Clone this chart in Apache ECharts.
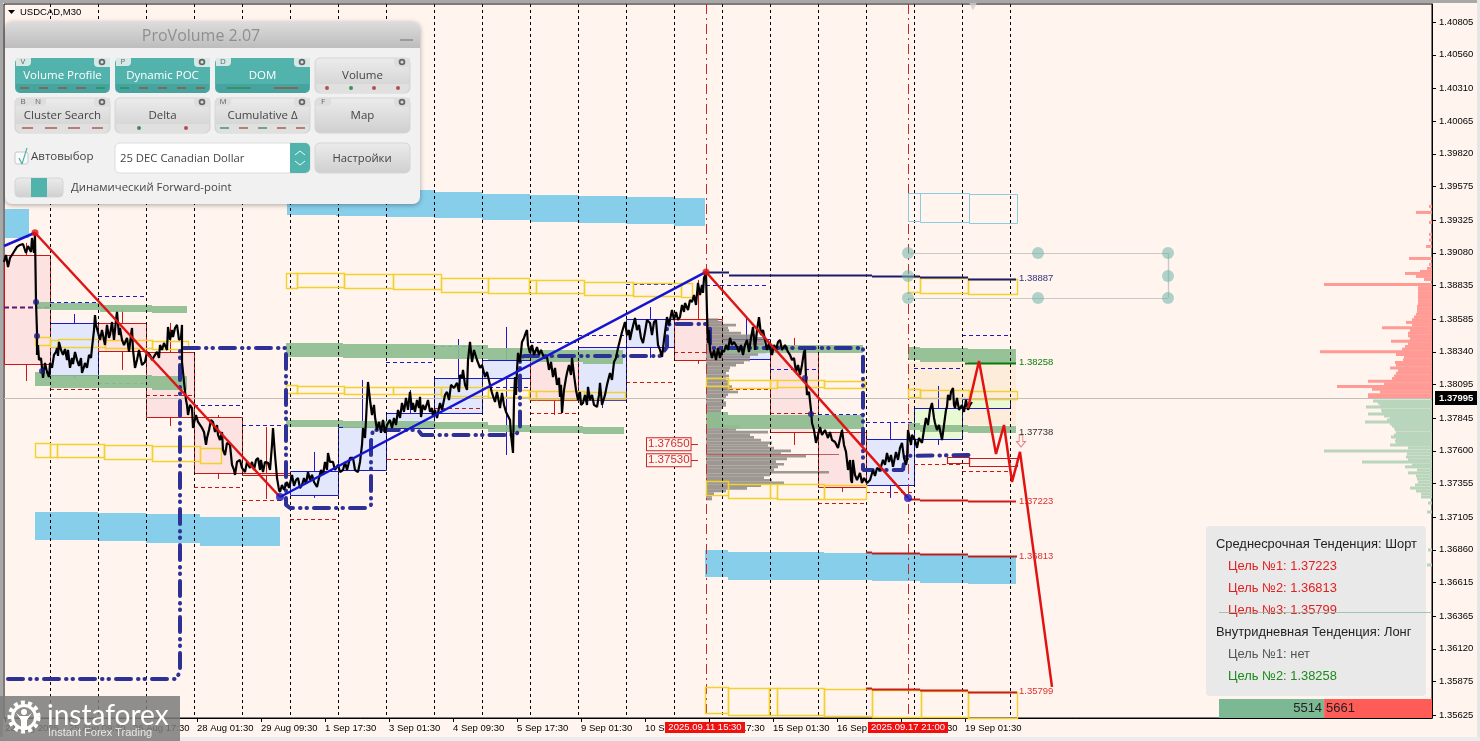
<!DOCTYPE html>
<html><head><meta charset="utf-8">
<style>html,body{margin:0;padding:0;background:#fff5ee;overflow:hidden}#c{width:1480px;height:741px}</style>
<script src="https://cdn.jsdelivr.net/npm/echarts@6/dist/echarts.min.js"></script>
</head><body><div id="c"></div>
<script>
// Prices below are in points: 38257 means 1.38257. Horizontal values are bar numbers.
const priceTicks=[40805,40560,40310,40065,39820,39575,39325,39080,38835,38585,38340,38095,37845,37600,37355,37105,36860,36615,36365,36120,35875,35625];
const timeTicks=[5,69,133,197,261,325,389,453,517,581,645,709,773,837,901,965];
const timeLabels=['22 Aug 2025','25 Aug 09:30','26 Aug 17:30','28 Aug 01:30','29 Aug 09:30','1 Sep 17:30','3 Sep 01:30','4 Sep 09:30','5 Sep 17:30','9 Sep 01:30','10 Sep 09:30','11 Sep 17:30','15 Sep 01:30','16 Sep 09:30','17 Sep 17:30','19 Sep 01:30'];
const daySeparators=[50,98,146,194,242,290,338,386,434,482,530,578,626,674,722,770,818,866,914,962,1010];
const sessionMarks=[706,908];
const closeTrace=[[4,39012],[6,39064],[8,38974],[10,39042],[12,39064],[15,39101],[17,39124],[20,39139],[23,39146],[25,39101],[26,39079],[28,39131],[30,39124],[31,39087],[32,39191],[34,39079],[35,39214],[36,38713],[37,38488],[37,38317],[38,38391],[39,38279],[41,38294],[43,38145],[45,38257],[47,38190],[49,38152],[50,38257],
[52,38220],[54,38317],[56,38339],[57,38369],[58,38309],[59,38414],[61,38354],[63,38317],[65,38361],[67,38279],[68,38354],[70,38220],[72,38294],[73,38249],[75,38339],[77,38279],[79,38235],[81,38294],[82,38182],[84,38227],[85,38257],[87,38220],[89,38317],[91,38294],[92,38369],[94,38503],[95,38615],[96,38541],[98,38541],[100,38429],[102,38503],[103,38466],[105,38391],[107,38541],[109,38444],[110,38466],[112,38563],[114,38429],[116,38578],[117,38638],[119,38466],[120,38518],[122,38429],[124,38391],[127,38444],[129,38339],[131,38466],[132,38518],[133,38354],[135,38220],[137,38279],[139,38354],[140,38317],[142,38242],[145,38264],[147,38339],[150,38317],[152,38279],[155,38317],[157,38339],[159,38294],[160,38391],[162,38354],[164,38406],[166,38414],[167,38354],[168,38526],[170,38429],[172,38503],[173,38451],[175,38518],[177,38541],[179,38429],[181,38444],[182,38541],[182,38264],[184,38115],[186,37980],[187,37943],[188,37868],[190,37943],[192,37920],[193,37771],[194,37808],[196,37868],[198,37816],[200,37816],[202,37771],[204,37741],[206,37644],[207,37696],[209,37756],[211,37831],[213,37816],[215,37741],[217,37793],[218,37719],[220,37681],[222,37741],[223,37607],[225,37569],[227,37659],[230,37644],[232,37495],[234,37457],[235,37420],[237,37517],[240,37532],[242,37472],[245,37442],[247,37517],[250,37472],[252,37517],[254,37457],[256,37532],[258,37547],[260,37457],[261,37532],[263,37442],[265,37517],[268,37510],[270,37457],[272,37644],[273,37771],[275,37569],[277,37397],[279,37308],[280,37293],[282,37345],[284,37308],[287,37367],[289,37322],[292,37420],[294,37338],[296,37382],[298,37397],[300,37322],[302,37345],[304,37397],[306,37353],[308,37442],[310,37382],[312,37420],[314,37367],[317,37330],[319,37397],[321,37457],[323,37420],[325,37517],[327,37457],[328,37584],[330,37517],[333,37517],[335,37457],[338,37495],[340,37442],[343,37457],[345,37517],[347,37457],[350,37547],[353,37547],[355,37457],[358,37442],[360,37517],[362,37644],[363,37771],[365,37696],[366,37831],[367,37980],[368,38115],[370,37980],[372,37868],[374,37943],[375,37853],[377,37756],[379,37816],[381,37734],[383,37831],[385,37734],[387,37793],[390,37831],[392,37771],[394,37846],[396,37793],[398,37906],[400,37846],[402,37958],[404,37891],[406,37995],[408,37906],[410,38040],[412,37906],[413,37958],[415,37891],[417,37980],[419,37920],[420,38003],[421,37853],[423,37943],[425,37906],[428,37980],[430,37891],[432,37920],[433,37853],[435,37906],[437,37846],[440,37958],[442,37906],[445,38018],[447,38040],[449,37980],[451,38093],[454,38070],[457,38108],[459,38040],[460,38167],[462,38145],[463,38205],[465,38093],[467,38055],[468,38279],[470,38414],[472,38264],[474,38354],[477,38279],[480,38220],[482,38242],[485,38152],[487,38190],[490,38093],[492,38033],[495,37965],[497,38040],[500,37920],[502,38033],[504,37943],[506,37891],[508,37883],[510,37831],[511,37719],[513,37584],[514,37980],[515,38152],[516,38018],[517,38205],[518,38332],[520,38264],[522,38414],[524,38444],[526,38488],[527,38503],[528,38391],[530,38332],[532,38391],[534,38317],[537,38376],[539,38317],[541,38354],[544,38294],[547,38302],[549,38205],[551,38264],[553,38152],[555,38220],[557,38093],[559,38145],[560,38003],[561,38093],[562,37883],[564,38055],[566,38145],[567,38182],[569,38242],[571,38167],[572,38294],[574,38167],[576,38055],[578,37980],[580,38040],[581,37943],[583,37958],[585,38018],[587,37943],[588,38078],[590,37980],[592,38018],[594,37943],[597,37928],[599,38018],[600,38108],[602,37943],[603,37943],[605,38018],[607,38093],[610,38182],[612,38130],[614,38264],[616,38294],[618,38369],[620,38429],[622,38488],[625,38563],[627,38466],[629,38503],[630,38429],[632,38503],[635,38593],[637,38503],[639,38541],[641,38444],[643,38406],[645,38488],[647,38578],[650,38556],[652,38466],[654,38563],[656,38578],[658,38391],[660,38354],[662,38302],[664,38429],[666,38541],[667,38600],[669,38541],[671,38615],[672,38653],[674,38578],[676,38638],[678,38578],[680,38600],[682,38690],[684,38638],[685,38705],[688,38653],[690,38728],[692,38713],[694,38765],[696,38690],[698,38855],[700,38765],[702,38840],[703,38780],[704,38892],[706,38930],
[707,38630],[708,38406],[709,38503],[710,38354],[712,38294],[714,38354],[716,38279],[718,38369],[720,38294],[722,38354],[724,38339],[726,38391],[728,38354],[730,38444],[732,38391],[734,38414],[737,38376],[739,38339],[741,38391],[743,38317],[745,38391],[747,38429],[749,38339],[751,38444],[753,38526],[755,38354],[757,38503],[759,38600],[761,38466],[763,38503],[765,38429],[767,38354],[769,38406],[770,38369],[772,38317],[774,38391],[776,38354],[778,38414],[780,38429],[782,38354],[785,38391],[788,38339],[790,38317],[792,38279],[794,38294],[796,38190],[798,38242],[800,38167],[802,38242],[804,38339],[805,38354],[806,38145],[807,38018],[809,38040],[811,37906],[812,37808],[814,37756],[816,37659],[818,37719],[820,37778],[822,37719],[825,37756],[828,37696],[830,37741],[832,37681],[835,37666],[838,37622],[840,37629],[842,37756],[844,37644],[846,37592],[848,37457],[850,37532],[851,37382],[852,37360],[853,37532],[855,37420],[857,37382],[860,37435],[862,37360],[864,37397],[867,37360],[870,37382],[873,37457],[875,37412],[877,37472],[880,37457],[883,37532],[885,37495],[887,37584],[889,37517],[891,37569],[893,37480],[896,37592],[898,37532],[900,37622],[902,37659],[904,37547],[906,37495],[907,37532],[908,37756],[911,37644],[912,37719],[915,37681],[917,37622],[919,37696],[922,37659],[924,37756],[926,37846],[928,37793],[930,37906],[932,37958],[934,37846],[935,37808],[937,37756],[939,37793],[942,37681],[944,37793],[946,37906],[947,37928],[948,38018],[950,37980],[951,38040],[953,38070],[954,37943],[955,37920],[957,37995],[959,37906],[962,37943],[964,37891],[966,37980],[968,37906],[970,37943],[972,37965]];
const trendRed1=[[35,39230],[280,37255]], trendRed2=[[706,38937],[908,37248]];
const trendBlue1=[[4,39131],[35,39230]], trendBlue2=[[280,37255],[706,38937]];
const forecastPath=[[968,37920],[979,38272],[996,37577],[1004,37793],[1012,37367],[1020,37592],[1052,35836]];
const pocPath=[[8,35895],[176,35895],[180,35948],[180,38369],[286,38369],[286,37196],[290,37173],[367,37173],[371,37196],[371,37674],[373,37756],[418,37756],[422,37719],[516,37719],[520,37771],[520,38294],[524,38309],[660,38309],[667,38376],[667,38541],[672,38548],[706,38548],[710,38518],[710,38376],[713,38369],[863,38369],[863,37457],[903,37457],[905,37562],[973,37569]];
const skyBands=[[287,336,39550,39363],[336,386,39550,39356],[386,434,39550,39348],[434,482,39535,39341],[482,530,39520,39326],[530,578,39512,39311],[578,626,39505,39303],[626,674,39497,39296],[674,705,39490,39281],[5,29,39408,39191],[35,98,37143,36934],[98,146,37136,36926],[146,200,37128,36911],[200,280,37106,36889],[705,728,36859,36658],[728,824,36844,36635],[824,872,36837,36635],[872,920,36837,36628],[920,968,36829,36613],[968,1016,36814,36605]];
const greenBands=[[37,50,38713,38660],[50,100,38705,38653],[100,152,38690,38638],[152,187,38683,38630],[35,50,38190,38085],[50,98,38167,38070],[98,152,38167,38070],[152,187,38160,38055],[286,343,38406,38302],[343,435,38399,38294],[435,488,38391,38287],[488,530,38369,38279],[530,583,38354,38264],[583,623,38354,38250],[286,343,37831,37778],[343,435,37823,37771],[435,488,37816,37763],[488,530,37793,37741],[530,583,37786,37734],[583,624,37778,37726],[706,728,37891,37771],[728,864,37868,37763],[722,863,38391,38332],[908,920,38376,38279],[920,968,38369,38264],[968,1016,38361,38257],[908,920,37808,37756],[920,968,37793,37741],[968,1016,37786,37734]];
const orangeZone=[[908,1016,38264,37793]];
const blueBoxes=[[50,98,38556,38167],[290,338,37450,37270],[338,386,37778,37457],[386,434,37883,37771],[434,482,38145,37883],[482,530,38279,38145],[578,626,38376,37980],[626,674,38586,38376],[722,770,38436,38287],[866,914,37689,37345]];
const redBoxes=[[4,50,39064,38249],[98,146,38556,38347],[146,194,38339,37853],[194,242,37853,37435],[242,290,37435,37420],[530,578,38302,37980],[674,722,38586,38279],[770,818,38369,37741],[818,866,37741,37330]];
const limeBoxes=[[914,962,37920,37689],[962,1010,37988,37920]];
const blueWicks=[[74,38623,38556],[74,38167,38145],[314,37592,37450],[314,37270,37248],[362,38130,37778],[410,38055,37883],[458,38436,38145],[506,38526,38279],[506,38145,37569],[602,37980,37920],[650,38675,38586],[650,38376,38294],[746,38600,38436],[890,37808,37689],[890,37345,37248],[938,38085,37920],[938,37689,37644]];
const redWicks=[[26,39154,39064],[26,38249,38122],[122,38660,38556],[122,38347,38205],[170,38556,38339],[170,37853,37786],[218,37868,37853],[218,37435,37390],[266,37778,37435],[266,37420,37240],[554,38354,38302],[554,37980,37868],[698,38877,38586],[698,38279,38250],[794,38444,38369],[794,37741,37644],[842,37786,37741],[842,37330,37293]];
const blueDashes=[[50,98,38713],[98,146,38758],[194,242,37943],[242,290,37793],[386,433,38264],[434,482,38384],[482,530,38078],[530,578,38414],[578,626,38466],[626,674,38847],[706,768,38840],[770,818,38212],[818,866,37876],[866,914,37816],[914,962,38220],[962,1010,38466]];
const redDashes=[[50,98,38063],[98,146,38108],[146,194,38018],[194,242,37330],[242,290,37233],[290,338,37091],[387,433,37539],[434,482,37920],[530,578,37883],[626,674,38115],[674,722,38339],[722,770,38063],[770,818,37883],[818,866,37210],[866,914,37293],[914,962,37502],[962,1010,37450]];
const purpleDashes=[[4,50,38675]];
const yellowBoxes=[[286,297,38930,38818],[297,344,38930,38825],[344,393,38922,38818],[393,441,38922,38810],[441,488,38892,38787],[488,529,38892,38780],[529,536,38877,38780],[536,584,38877,38780],[584,633,38862,38765],[633,681,38855,38758],[681,692,38855,38750],
[286,297,38093,38033],[297,344,38085,38033],[344,393,38078,38025],[393,441,38078,38025],[441,488,38078,38010],[488,529,38055,38003],[529,536,38048,37988],[536,584,38048,37988],[584,625,38040,37988],
[35,50,38451,38391],[50,58,38429,38376],[58,105,38436,38376],[105,152,38429,38369],[152,188,38421,38361],
[35,50,37659,37554],[50,57,37651,37554],[57,104,37651,37554],[104,152,37644,37539],[152,200,37637,37524],[200,221,37622,37510],
[706,728,38145,38085],[728,770,38130,38070],[770,777,38130,38070],[777,824,38130,38078],[824,865,38122,38070],
[706,728,37375,37270],[728,770,37353,37248],[770,777,37353,37248],[777,824,37353,37240],[824,866,37345,37240],
[908,920,38900,38787],[920,968,38892,38780],[968,1017,38885,38773],
[908,920,38063,38003],[920,969,38055,37995],[969,1017,38048,37988],
[705,728,35836,35641],[728,769,35828,35626],[769,777,35828,35626],[777,824,35828,35626],[824,872,35821,35618],[872,921,35813,35611],[921,968,35806,35611],[968,1017,35798,35603]];
const paleBlueBoxes=[[908,920,39527,39318],[920,969,39527,39311],[969,1017,39520,39303]];
const redOutlineBoxes=[[947,969,37554,37510],[969,1017,37547,37487]];
const navyLevel=[[706,729,38937],[729,872,38915],[872,920,38907],[920,968,38900],[968,1016,38887]];
const greenLevel=[[965,1016,38258]];
const redLevel1=[[908,920,37240],[920,968,37233],[968,1016,37223]];
const redLevel2=[[866,872,36844],[872,920,36837],[920,968,36829],[968,1017,36813]];
const redLevel3=[[866,872,35828],[872,920,35821],[920,968,35813],[968,1017,35799]];
const levelLabels=[[1019,38887,'1.38887','#33337a'],[1019,38258,'1.38258','#108010'],[1019,37738,'1.37738','#333333'],[1019,37223,'1.37223','#e03030'],[1019,36813,'1.36813','#e03030'],[1019,35799,'1.35799','#e03030']];
const sideLevels=[37650,37530];
const fibNodes=[[908,39079],[1038,39079],[1168,39079],[908,38907],[1168,38907],[908,38743],[1038,38743],[1168,38743]];
const fibEdges=[[908,1168,39079],[908,1168,38743]], fibSide=[[1168,39079,38743]];
const centerProfile=[[38580,12],[38560,17],[38540,30],[38520,22],[38500,23],[38480,35],[38460,50],[38440,60],[38420,62],[38400,58],[38380,60],[38360,58],[38340,60],[38320,52],[38300,44],[38280,44],[38260,38],[38240,30],[38220,24],[38200,23],[38180,20],[38160,23],[38140,20],[38120,23],[38100,23],[38080,26],[38060,24],[38040,32],[38020,22],[38000,20],[37980,18],[37960,20],[37940,20],[37920,16],[37900,15],[37880,15],[37860,14],[37840,14],[37820,15],[37800,18],[37780,34],[37760,30],[37740,62],[37720,44],[37700,48],[37680,55],[37660,66],[37640,62],[37620,68],[37600,85],[37580,75],[37560,100],[37540,81],[37520,70],[37500,78],[37480,72],[37460,68],[37440,123],[37420,64],[37400,58],[37380,66],[37360,78],[37340,55],[37320,41],[37300,20],[37280,8],[37260,6],[37240,6]];
const centerPoc=[[706,839,37575]];
const rightSell=[[39427,3],[39382,16],[39307,3],[39218,3],[39176,3],[39128,6],[39038,23],[38994,3],[38964,5],[38941,12],[38926,27],[38904,16],[38881,8],[38844,108],[38820,14],[38800,14],[38780,14],[38760,14],[38740,14],[38720,14],[38700,14],[38680,15],[38660,15],[38640,15],[38620,16],[38600,18],[38580,20],[38560,26],[38540,20],[38520,50],[38500,22],[38480,24],[38460,24],[38440,22],[38420,41],[38400,24],[38380,27],[38360,30],[38340,112],[38320,36],[38300,28],[38280,29],[38260,37],[38240,36],[38220,42],[38200,34],[38180,36],[38160,38],[38140,40],[38120,64],[38100,48],[38080,95],[38060,60],[38040,52],[38020,64],[38000,64]];
const rightBuy=[[37973,59],[37958,54],[37943,52],[37928,66],[37906,51],[37891,50],[37876,64],[37861,48],[37846,42],[37831,45],[37816,67],[37801,42],[37786,40],[37771,38],[37756,37],[37734,36],[37719,38],[37704,41],[37689,36],[37674,37],[37659,36],[37644,42],[37622,24],[37599,108],[37577,25],[37554,26],[37532,24],[37517,70],[37495,20],[37480,27],[37457,15],[37435,24],[37412,16],[37390,15],[37367,14],[37345,17],[37322,22],[37300,16],[37278,11],[37255,11],[37210,4],[37143,5],[36859,4],[36747,5]];
const rightThinBuy=[[1219,1432,36396]];
const deltaBuy=5514, deltaSell=5661;
const lastPrice=37995;
const pivotsRed=[[35,39230],[706,38937]], pivotsBlue=[[280,37255],[908,37248]];
const navyDots=[[36,38713],[37,38459],[42,38197],[805,38145],[811,37876]];

const P=v=>1+v/1e5;
const fmt=v=>P(v).toFixed(5);
const S=v=>Math.round(v)+0.5;
const base={type:'custom',silent:true,animation:false,xAxisIndex:0,yAxisIndex:0};
function boxes(rows,fill,stroke,lw,z,opacity){const snap=stroke?S:Math.round;return {...base,z,data:rows.map(r=>[r[0],r[1],P(r[2]),P(r[3])]),encode:{x:[0,1],y:[2,3]},
 renderItem:(p,api)=>{const a=api.coord([api.value(0),api.value(2)]),b=api.coord([api.value(1),api.value(3)]);
  const x=snap(a[0]),y=snap(a[1]),x2=snap(b[0]),y2=snap(b[1]);
  return {type:'rect',shape:{x,y,width:x2-x,height:y2-y},style:{fill,stroke:stroke||null,lineWidth:lw||0,opacity:opacity==null?1:opacity}};}};}
function hLines(rows,color,w,dash,z,op){return {...base,z,data:rows.map(r=>[r[0],r[1],P(r[2])]),encode:{x:[0,1],y:2},
 renderItem:(p,api)=>{const a=api.coord([api.value(0),api.value(2)]),b=api.coord([api.value(1),api.value(2)]);const y=S(a[1]);
  return {type:'line',shape:{x1:a[0],y1:y,x2:b[0],y2:y},style:{stroke:color,lineWidth:w,lineDash:dash||null,opacity:op==null?1:op}};}};}
function vLines(rows,color,w,dash,z){return {...base,z,data:rows.map(r=>[r[0],P(r[1]),P(r[2])]),encode:{x:0,y:[1,2]},
 renderItem:(p,api)=>{const a=api.coord([api.value(0),api.value(1)]),b=api.coord([api.value(0),api.value(2)]);const x=S(a[0]);
  return {type:'line',shape:{x1:x,y1:a[1],x2:x,y2:b[1]},style:{stroke:color,lineWidth:w,lineDash:dash||null}};}};}
function profile(rows,anchor,dir,color,half,z,op){return {...base,z,data:rows.map(r=>[r[1],P(r[0])]),encode:{x:0,y:1},
 renderItem:(p,api)=>{const a=api.coord([anchor,api.value(1)+half]),b=api.coord([anchor+dir*api.value(0),api.value(1)-half]);
  return {type:'rect',shape:{x:Math.min(a[0],b[0]),y:a[1],width:Math.abs(b[0]-a[0]),height:b[1]-a[1]},style:{fill:color,opacity:op}};}};}
function line(data,color,w,z,extra){return {type:'line',silent:true,animation:false,z,symbol:'none',data:data.map(d=>[d[0],P(d[1])]),lineStyle:Object.assign({color,width:w},extra||{})};}
function dots(data,color,size,z,extra){return Object.assign({type:'scatter',silent:true,animation:false,z,symbolSize:size,data:data.map(d=>[d[0],P(d[1])]),itemStyle:{color}},extra||{});}
function texts(rows,font,z,box){return {...base,z,data:rows.map(r=>[r[0],P(r[1])]),encode:{x:0,y:1},
 renderItem:(p,api)=>{const r=rows[p.dataIndex],c=api.coord([api.value(0),api.value(1)]);
  return {type:'text',x:c[0],y:c[1],style:Object.assign({text:r[2],fill:r[3],font,align:'left',verticalAlign:'middle'},box||{})};}};}

const yMin=P(35603), yMax=P(40940);
const series=[
 boxes(orangeZone,'#fdecd9',null,0,1),
 boxes(skyBands,'#87ceeb',null,0,2),
 boxes(blueBoxes,'#e3e7fb','#1a1acb',1,3),
 boxes(redBoxes,'#fde2e2','#cc1515',1,3),
 boxes(limeBoxes,'#e9f9d2','#1a1acb',1,3),
 vLines(blueWicks,'#1a1acb',1,null,3),
 vLines(redWicks,'#cc1515',1,null,3),
 hLines(blueDashes,'#1a1acb',1,[4,3],3),
 hLines(redDashes,'#cc1515',1,[4,3],3),
 hLines(purpleDashes,'#6a106a',2,[5,3],3),
 profile(centerProfile,706,1,'#8d8782',1.0e-4,4,0.85),
 hLines(centerPoc,'#c06060',1,null,4),
 boxes(greenBands,'#8fbc8f',null,0,5,0.93),
 vLines(daySeparators.map(b=>[b,40940,35603]),'#000',1,[3,3],6),
 vLines(sessionMarks.map(b=>[b,40940,35603]),'#c62828',1,[10,4,2,4],6),
 boxes(yellowBoxes,'none','#f3d02c',1.4,7),
 boxes(paleBlueBoxes,'none','#8ccbe0',1,7),
 boxes(redOutlineBoxes,'none','#c41d1d',1.2,7),
 profile(rightSell,1432,-1,'#ff9a95',1.12e-4,7,1),
 profile(rightBuy,1432,-1,'#b9d5bb',1.12e-4,7,1),
 hLines([[4,1432,lastPrice]],'#c3bdb8',1,null,7),
 hLines(fibEdges,'#c8c8c4',1,null,7),
 vLines(fibSide,'#c8c8c4',1.4,null,7),
 hLines(navyLevel,'#1b1b70',2,null,8),
 hLines(greenLevel,'#0a7a0a',2,null,8),
 hLines(redLevel1,'#d01818',2,null,8),
 hLines(redLevel2,'#b82020',2,null,8),
 hLines(redLevel3,'#c81c1c',2,null,8),
 hLines(sideLevels.map(v=>[688,698,v]),'#c62828',1,null,8),
 line(pocPath,'#2d3196',4,9,{type:[15,7,0.5,6,0.5,7],cap:'round'}),
 line(closeTrace,'#000',2.2,10),
 line(trendBlue1,'#1515d0',2.5,11),
 line(trendBlue2,'#1515d0',2.5,11),
 line(trendRed1,'#dd1515',2.5,11),
 line(trendRed2,'#dd1515',2.5,11),
 line(forecastPath,'#e31212',2.5,12),
 dots(navyDots,'#1a1a80',6,12),
 dots(pivotsRed,'#e01010',7,13),
 dots(pivotsBlue,'#1a1ac0',8,13),
 dots(fibNodes,'rgba(115,180,170,.7)',12,13),
 dots([[1021,37674]],'#fff5ee',[9,12],13,{symbol:'path://M3,0H7V6H10L5,11L0,6H3Z',itemStyle:{color:'#fff5ee',borderColor:'#e06060',borderWidth:1}}),
 dots([[973,40925]],'#cfcfcf',9,13,{symbol:'triangle',symbolRotate:180,clip:false}),
 texts(levelLabels.map(r=>[r[0],r[1],r[2],r[3]]),'9.5px "Liberation Sans"',14),
 texts(sideLevels.map(v=>[647,v,fmt(v),'#d03030']),'11.5px "Liberation Sans"',14,{backgroundColor:'#fff5ee',borderColor:'#c62828',borderWidth:1,padding:[0,1,0,1]}),
 texts([[1435,lastPrice,fmt(lastPrice),'#fff']],'bold 9.5px "Liberation Sans"',14,{backgroundColor:'#000',padding:[2,4,2,4]}),
 hLines(rightThinBuy,'#8fbc9f',1,null,120,0.8),
 {...base,xAxisIndex:1,yAxisIndex:1,z:20,data:[[-deltaBuy,0,0,1,0],[0,deltaSell,0,1,1]],encode:{x:[0,1],y:[2,3]},
  renderItem:(p,api)=>{const a=api.coord([api.value(0),1]),b=api.coord([api.value(1),0]),i=p.dataIndex;
   const w=b[0]-a[0],h=b[1]-a[1];
   return {type:'group',children:[{type:'rect',shape:{x:a[0],y:a[1],width:w,height:h},style:{fill:i?'#ff5b57':'#7cb893'}},
    {type:'text',x:i?a[0]+2:b[0]-2,y:a[1]+h/2,style:{text:String(i?deltaSell:deltaBuy),fill:'#222',font:'13px "Liberation Sans"',align:i?'left':'right',verticalAlign:'middle'}}]};}}
];

// ---- Overlay panels (interface furniture, not data) ----
const g=[];const Z=100;
const grey={type:'linear',x:0,y:0,x2:0,y2:1,colorStops:[{offset:0,color:'#ececec'},{offset:1,color:'#cfcfcf'}]};
function R(x,y,w,h,fill,r,extra){g.push({type:'rect',z:Z,silent:true,shape:{x,y,width:w,height:h,r:r||0},style:Object.assign({fill},extra||{})});}
function T(x,y,text,fill,font,align){g.push({type:'text',z:Z,silent:true,style:{x,y,text,fill,font,align:align||'left',verticalAlign:'middle',textAlign:align||'left',textVerticalAlign:'middle'}});}
function L(x1,y1,x2,y2,stroke,w){g.push({type:'line',z:Z,silent:true,shape:{x1,y1,x2,y2},style:{stroke,lineWidth:w||1.5}});}
function C(cx,cy,r,fill,stroke,w,dash){g.push({type:'circle',z:Z,silent:true,shape:{cx,cy,r},style:{fill:fill||'none',stroke:stroke||null,lineWidth:w||0,lineDash:dash||null}});}
const UI='"Open Sans"';
R(5,22,415,182,'#f1f1f1',7,{shadowBlur:5,shadowColor:'rgba(0,0,0,.35)',shadowOffsetY:1});
R(5,22,415,26,{type:'linear',x:0,y:0,x2:0,y2:1,colorStops:[{offset:0,color:'#dcdcdc'},{offset:1,color:'#bdbdbd'}]},[7,7,0,0]);
T(201,36,'ProVolume 2.07','#8f8f8f','16px '+UI,'center');
R(400,39,13,2,'#9a9a9a');
const GD='#a04a3a', GR='#2f8a50';
const buttons=[
 {x:15,y:58,t:'Volume Profile',k:['V'],on:1,dash:[[20,29,GD],[39,48,GD],[58,67,GD],[76,86,GD],[96,105,GR]]},
 {x:115,y:58,t:'Dynamic POC',k:['P'],on:1,dash:[[120,129,GR],[139,148,GD],[158,167,GD],[177,186,GD],[196,205,GD]]},
 {x:215,y:58,t:'DOM',k:['D'],on:1,dash:[[227,251,GR],[274,298,GD]]},
 {x:315,y:58,t:'Volume',k:[],dot:[[327,'#b05050'],[351,'#3f8f5a'],[374,'#b05050'],[398,'#b05050']]},
 {x:15,y:98,t:'Cluster Search',k:['B','N'],dash:[[22,33,GD],[45,57,GD],[68,80,GD],[92,103,GD]]},
 {x:115,y:98,t:'Delta',k:[],dot:[[139,'#3f8f5a'],[186,'#b05050']]},
 {x:215,y:98,t:'Cumulative Δ',k:['M'],dash:[[220,229,GR],[239,248,GD],[258,267,GR],[277,286,GD],[296,305,GD]]},
 {x:315,y:98,t:'Map',k:['F']}
];
buttons.forEach(b=>{
 const strip=b.dash||b.dot;
 R(b.x,b.y,95,35,b.on?'#52b3ad':grey,5,{stroke:b.on?null:'#d5d5d5',lineWidth:1});
 if(strip){R(b.x+1,b.y+26,93,9,b.on?'#46a39d':'#e0e0e0',[0,0,5,5]);}
 b.k.forEach((c,i)=>{R(b.x+1+i*15,b.y,15,8,b.on?'#d6e9e7':'#dedede',[0,0,4,0]);T(b.x+8+i*15,b.y+4,c,'#666','8px '+UI,'center');});
 R(b.x+79,b.y,16,9,b.on?'#d6e9e7':'#dedede',[0,0,0,4]);
 C(b.x+87,b.y+4,2.4,'none','#666',1.8);
 T(b.x+47.5,b.y+18,b.t,b.on?'#fff':'#444','11.5px '+UI,'center');
 (b.dash||[]).forEach(d=>L(d[0],b.y+30,d[1],b.y+30,d[2],1.3));
 (b.dot||[]).forEach(d=>C(d[0],b.y+30,2,d[1]));
});
R(15,152,13,12,'#fafafa',2,{stroke:'#c8c8c8',lineWidth:1});
L(19,158,22,164,'#4fb0aa',1.2);L(22,164,27,148,'#4fb0aa',1.2);
T(31,157,'Автовыбор','#444','11.5px '+UI);
R(115,143,195,30,'#fff',5,{stroke:'#dcdcdc',lineWidth:1});
R(290,143,20,30,'#52b3ad',[0,5,5,0]);
L(295,155,300,151,'#dff',1);L(300,151,305,155,'#dff',1);L(295,161,300,165,'#dff',1);L(300,165,305,161,'#dff',1);
T(120,159,'25 DEC Canadian Dollar','#444','11.3px '+UI);
R(315,143,95,30,grey,5,{stroke:'#d5d5d5',lineWidth:1});
T(362,159,'Настройки','#444','11.3px '+UI,'center');
R(15,178,48,19,grey,4,{stroke:'#d5d5d5',lineWidth:1});
R(31,178,16,19,'#52b3ad');
T(71,188,'Динамический Forward-point','#444','11.3px '+UI);
// chart title
g.push({type:'polygon',z:Z,silent:true,shape:{points:[[8,10],[15,10],[11.5,14]]},style:{fill:'#000'}});
T(20,12.5,'USDCAD,M30','#000','9.5px "Liberation Sans"');
// time tags
R(665,722,80,11,'#f01010');T(705,727.5,'2025.09.11 15:30','#fff','9.5px "Liberation Sans"','center');
R(868,722,80,11,'#f01010');T(908,727.5,'2025.09.17 21:00','#fff','9.5px "Liberation Sans"','center');
// trend panel
R(1206,526,220,170,'#e8e8e8',4,{opacity:.97});
const F='12.9px "Liberation Sans"';
T(1216,544,'Среднесрочная Тенденция: Шорт','#222',F);
T(1228,566,'Цель №1: 1.37223','#e02020',F);
T(1228,588,'Цель №2: 1.36813','#e02020',F);
T(1228,610,'Цель №3: 1.35799','#e02020',F);
T(1216,632,'Внутридневная Тенденция: Лонг','#222',F);
T(1228,654,'Цель №1: нет','#555',F);
T(1228,676,'Цель №2: 1.38258','#1a8a1a',F);
// window edges
R(0,0,1480,3,'#a8a8a8');R(0,0,3,741,'#a8a8a8');R(1477,0,3,741,'#e6e6e6');R(0,737,1480,4,'#ececec');
// watermark
g.push({type:'rect',z:Z+5,silent:true,shape:{x:0,y:696,width:180,height:45},style:{fill:'rgba(125,125,125,.86)'}});
function WC(cx,cy,r,fill,stroke,w,dash){g.push({type:'circle',z:Z+6,silent:true,shape:{cx,cy,r},style:{fill:fill||'none',stroke:stroke||null,lineWidth:w||0,lineDash:dash||null}});}
WC(24,717,14.5,null,'#fff',4,[4,3.2]);WC(24,717,11.5,null,'#fff',3);WC(24,712,3,'#fff');
g.push({type:'polygon',z:Z+6,silent:true,shape:{points:[[16,713],[20,716],[28,716],[32,713],[27,720],[27,730],[21,730],[21,720]]},style:{fill:'#fff'}});
g.push({type:'text',z:Z+6,silent:true,style:{x:47,y:716,text:'instaforex',fill:'#fff',font:'400 28px Lato',align:'left',verticalAlign:'middle',textAlign:'left',textVerticalAlign:'middle'}});
g.push({type:'text',z:Z+6,silent:true,style:{x:48,y:733,text:'Instant Forex Trading',fill:'#e8e8e8',font:'11px "Liberation Sans"',align:'left',verticalAlign:'middle',textAlign:'left',textVerticalAlign:'middle'}});

const option={backgroundColor:'#fff5ee',animation:false,graphic:{elements:g},
 grid:[{left:4,top:4,width:1428,height:714,show:true,borderColor:'#000',borderWidth:1,backgroundColor:'#fff5ee'},
       {left:1219,top:699,width:213,height:19,show:false}],
 xAxis:[{type:'value',gridIndex:0,min:4,max:1432,position:'bottom',splitLine:{show:false},
   axisLine:{show:true,lineStyle:{color:'#000'}},axisTick:{show:true,length:4,lineStyle:{color:'#000'},customValues:timeTicks},
   axisLabel:{show:true,customValues:timeTicks,align:'left',margin:5,color:'#000',fontFamily:'Liberation Sans',fontSize:9.5,formatter:v=>timeLabels[timeTicks.indexOf(v)]||''}},
  {type:'value',gridIndex:1,min:-deltaBuy,max:deltaSell,show:false}],
 yAxis:[{type:'value',gridIndex:0,min:yMin,max:yMax,position:'right',splitLine:{show:false},
   axisLine:{show:true,lineStyle:{color:'#000'}},axisTick:{show:true,length:4,lineStyle:{color:'#000'},customValues:priceTicks.map(P)},
   axisLabel:{show:true,customValues:priceTicks.map(P),margin:7,color:'#000',fontFamily:'Liberation Sans',fontSize:9.5,formatter:v=>v.toFixed(5)}},
  {type:'value',gridIndex:1,min:0,max:1,show:false}],
 series};
const chart=echarts.init(document.getElementById('c'),null,{renderer:'canvas'});
chart.setOption(option);
</script></body></html>
